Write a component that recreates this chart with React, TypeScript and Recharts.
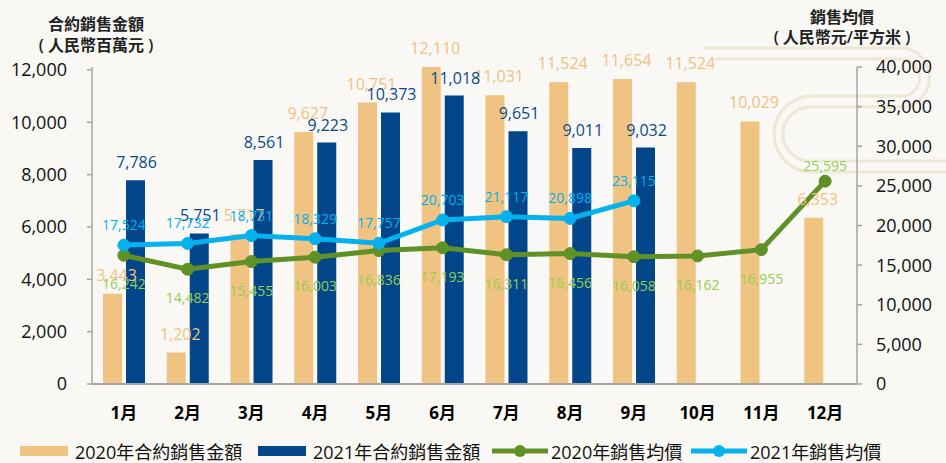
import React from 'react';
import { ComposedChart, Bar, Line, XAxis, YAxis, LabelList } from 'recharts';

const months = ['1月', '2月', '3月', '4月', '5月', '6月', '7月', '8月', '9月', '10月', '11月', '12月'];
const amount2020 = [3443, 1202, 5717, 9627, 10751, 12110, 11031, 11524, 11654, 11524, 10029, 6353];
const amount2021 = [7786, 5751, 8561, 9223, 10373, 11018, 9651, 9011, 9032, null, null, null];
const price2020 = [16242, 14482, 15455, 16003, 16836, 17193, 16311, 16456, 16058, 16162, 16955, 25595];
const price2021 = [17524, 17732, 18731, 18329, 17757, 20703, 21117, 20898, 23115, null, null, null];
const leftTicks = [0, 2000, 4000, 6000, 8000, 10000, 12000];
const rightTicks = [0, 5000, 10000, 15000, 20000, 25000, 30000, 35000, 40000];

const data = months.map((m, i) => ({
  month: m,
  a20: amount2020[i],
  a21: amount2021[i],
  p20: price2020[i],
  p21: price2021[i],
}));

const FONT = "'Open Sans', 'Noto Sans CJK TC', sans-serif";
const fmt = (v: number) => v.toLocaleString('en-US');

const C_ORANGE = '#f0c382';
const C_NAVY = '#03468a';
const C_GREEN = '#5f9127';
const C_SKY = '#05b2ee';

function makeLabel(
  color: string,
  size: number,
  where: 'top' | 'bottom',
  off: number,
  dx = 0,
  weight: any = 'normal',
  flipLast = false
) {
  return (props: any) => {
    const value = props.value;
    if (value === null || value === undefined) return null;
    const vb = props.viewBox || {};
    const x = (props.x ?? vb.x) as number;
    const y = (props.y ?? vb.y) as number;
    const w = (props.width ?? vb.width ?? 0) as number;
    if (x == null || y == null || isNaN(x) || isNaN(y)) return null;
    let pos = where;
    let o = off;
    if (flipLast && props.index === months.length - 1) {
      pos = 'top';
      o = 10;
    }
    const cx = x + w / 2 + dx;
    const ty = pos === 'top' ? y - o : y + o;
    return (
      <text
        x={cx}
        y={ty}
        textAnchor="middle"
        dominantBaseline={pos === 'top' ? 'auto' : 'hanging'}
        fill={color}
        fontSize={size}
        fontWeight={weight}
        fontFamily={FONT}
      >
        {fmt(value)}
      </text>
    );
  };
}

const legendItems = [
  { label: '2020年合約銷售金額', color: C_ORANGE, kind: 'bar', left: 20 },
  { label: '2021年合約銷售金額', color: C_NAVY, kind: 'bar', left: 258 },
  { label: '2020年銷售均價', color: C_GREEN, kind: 'line', left: 492 },
  { label: '2021年銷售均價', color: C_SKY, kind: 'line', left: 691 },
];

export default function App() {
  return (
    <div
      style={{
        position: 'absolute',
        left: 0,
        top: 0,
        width: 946,
        height: 463,
        background: '#f9f8f5',
        fontFamily: FONT,
        overflow: 'hidden',
      }}
    >
      <svg width={946} height={463} style={{ position: 'absolute', left: 0, top: 0 }}>
        <g fill="none" stroke="#efe7d5" strokeWidth={3}>
          <path d="M 703 48 H 905 A 30 30 0 0 1 905 107 H 810 A 27 27 0 0 0 810 161 H 946" />
          <path d="M 716 59 H 905 A 19 19 0 0 1 905 96 H 812 A 38 38 0 0 0 812 172 H 946" />
        </g>
      </svg>
      <div style={{ position: 'absolute', left: 0, top: 0 }}>
        <ComposedChart
          width={946}
          height={463}
          data={data}
          margin={{ top: 67, right: 0, left: 0, bottom: 0 }}
          barSize={19}
          barGap={4}
        >
          <XAxis
            dataKey="month"
            height={79}
            interval={0}
            axisLine={{ stroke: '#a6a6a6', strokeWidth: 2 }}
            tickLine={false}
            tickSize={0}
            tickMargin={23}
            tick={{ fill: '#000', fontSize: 17, fontWeight: 'bold', fontFamily: FONT }}
          />
          <YAxis
            yAxisId="left"
            width={92}
            domain={[0, 12000]}
            ticks={leftTicks}
            interval={0}
            tickFormatter={fmt}
            axisLine={{ stroke: '#a6a6a6', strokeWidth: 1.5 }}
            tickLine={{ stroke: '#a6a6a6', strokeWidth: 1.5 }}
            tickSize={5}
            tickMargin={20}
            tick={{ fill: '#111', fontSize: 18, fontFamily: FONT }}
          />
          <YAxis
            yAxisId="right"
            orientation="right"
            width={89}
            domain={[0, 40000]}
            ticks={rightTicks}
            interval={0}
            tickFormatter={fmt}
            axisLine={{ stroke: '#a6a6a6', strokeWidth: 1.5 }}
            tickLine={{ stroke: '#a6a6a6', strokeWidth: 1.5 }}
            tickSize={5}
            tickMargin={14}
            tick={{ fill: '#111', fontSize: 18, fontFamily: FONT }}
          />
          <Bar yAxisId="left" dataKey="a20" fill={C_ORANGE} isAnimationActive={false}>
            <LabelList dataKey="a20" content={makeLabel('#f0c27f', 16, 'top', 13, 4)} />
          </Bar>
          <Bar yAxisId="left" dataKey="a21" fill={C_NAVY} isAnimationActive={false}>
            <LabelList dataKey="a21" content={makeLabel('#0c4a8a', 16, 'top', 12, 1, 500)} />
          </Bar>
          <Line
            yAxisId="right"
            dataKey="p20"
            stroke={C_GREEN}
            strokeWidth={5}
            dot={{ r: 6, fill: C_GREEN, stroke: C_GREEN, strokeWidth: 1 }}
            isAnimationActive={false}
          >
            <LabelList dataKey="p20" content={makeLabel('#92d050', 14, 'bottom', 22, 0, 'normal', true)} />
          </Line>
          <Line
            yAxisId="right"
            dataKey="p21"
            stroke={C_SKY}
            strokeWidth={5}
            dot={{ r: 6, fill: C_SKY, stroke: C_SKY, strokeWidth: 1 }}
            isAnimationActive={false}
          >
            <LabelList dataKey="p21" content={makeLabel('#00b0f0', 14, 'top', 15)} />
          </Line>
        </ComposedChart>
      </div>

      <div
        style={{
          position: 'absolute',
          left: 0,
          width: 192,
          top: 14,
          textAlign: 'center',
          fontSize: 16,
          fontWeight: 600,
          color: '#222',
          lineHeight: '21px',
          whiteSpace: 'pre',
        }}
      >
        <div>合約銷售金額</div>
        <div>( 人民幣百萬元 )</div>
      </div>
      <div
        style={{
          position: 'absolute',
          left: 742,
          width: 200,
          top: 7,
          textAlign: 'center',
          fontSize: 16,
          fontWeight: 600,
          color: '#222',
          lineHeight: '20px',
          whiteSpace: 'pre',
        }}
      >
        <div>銷售均價</div>
        <div>( 人民幣元/平方米 )</div>
      </div>

      {legendItems.map((it) => (
        <div
          key={it.label}
          style={{
            position: 'absolute',
            left: it.left,
            top: 439,
            height: 24,
            display: 'flex',
            alignItems: 'center',
            fontSize: 18,
            color: '#111',
            whiteSpace: 'nowrap',
          }}
        >
          {it.kind === 'bar' ? (
            <div style={{ width: 48, height: 10, background: it.color, marginRight: 7 }} />
          ) : (
            <svg width={56} height={14} style={{ marginRight: 3 }}>
              <line x1={0} y1={7} x2={56} y2={7} stroke={it.color} strokeWidth={5} />
              <circle cx={28} cy={7} r={6} fill={it.color} />
            </svg>
          )}
          <span>{it.label}</span>
        </div>
      ))}
    </div>
  );
}
